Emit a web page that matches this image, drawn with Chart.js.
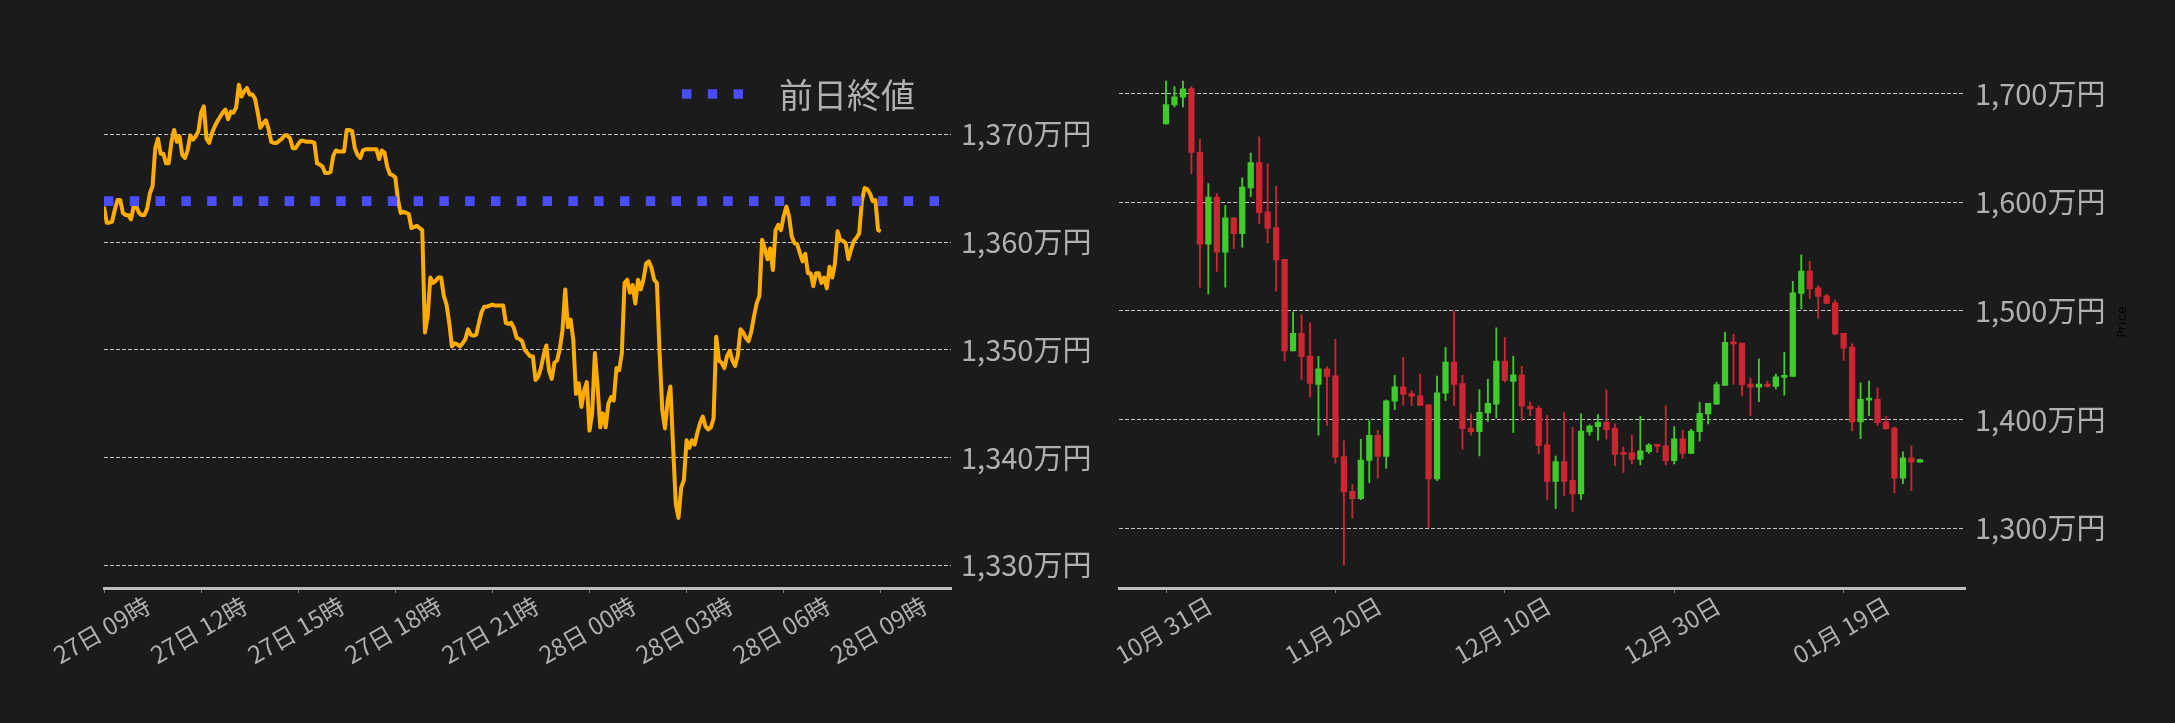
<!DOCTYPE html>
<html lang="ja">
<head>
<meta charset="utf-8">
<script src="https://cdn.jsdelivr.net/npm/chart.js@4.4.1/dist/chart.umd.min.js"></script>
<style>
  html, body { margin: 0; padding: 0; background: #1b1b1b; }
  body { width: 2175px; height: 723px; position: relative; overflow: hidden; }
  .box { position: absolute; top: 0; height: 723px; }
  #leftBox { left: 0; width: 1100px; }
  #rightBox { left: 1100px; width: 1075px; }
</style>
</head>
<body>
<div class="box" id="leftBox"><canvas id="intraday" width="1100" height="723"></canvas></div>
<div class="box" id="rightBox"><canvas id="daily" width="1075" height="723"></canvas></div>
<script>
/* ---------- intraday (5 min steps from 27日 09時, 万円) ---------- */
const hourTickValues = [0, 3, 6, 9, 12, 15, 18, 21, 24];
const hourTickLabels = ["27日 09時", "27日 12時", "27日 15時", "27日 18時", "27日 21時",
                        "28日 00時", "28日 03時", "28日 06時", "28日 09時"];
const priceValues = [
  1363.3, 1361.8, 1361.8, 1361.9, 1363.0, 1363.9, 1363.9, 1362.7, 1362.5, 1362.5,
  1362.1, 1363.3, 1363.3, 1362.7, 1362.5, 1362.5, 1363.1, 1364.5, 1365.2, 1368.7,
  1369.6, 1368.2, 1368.2, 1367.3, 1367.3, 1369.3, 1370.4, 1369.3, 1369.8, 1368.1,
  1367.8, 1368.5, 1369.9, 1369.5, 1369.8, 1370.3, 1372.0, 1372.6, 1369.6, 1369.2,
  1370.1, 1370.7, 1371.2, 1371.6, 1372.0, 1372.3, 1371.4, 1372.1, 1372.0, 1372.5,
  1374.6, 1373.5, 1374.0, 1374.3, 1373.7, 1373.7, 1373.3, 1372.0, 1370.6, 1371.0,
  1371.3, 1370.5, 1369.3, 1369.2, 1369.2, 1369.4, 1369.6, 1369.9, 1369.9, 1369.6,
  1368.7, 1368.7, 1369.1, 1369.4, 1369.4, 1369.3, 1369.3, 1369.3, 1369.2, 1367.3,
  1367.2, 1367.0, 1366.4, 1366.4, 1366.5, 1368.0, 1368.5, 1368.4, 1368.4, 1368.4,
  1370.4, 1370.4, 1370.3, 1368.7, 1368.1, 1367.8, 1368.5, 1368.6, 1368.6, 1368.6,
  1368.6, 1368.6, 1367.7, 1368.5, 1368.3, 1367.0, 1366.3, 1366.2, 1366.0, 1363.9,
  1362.7, 1362.8, 1362.7, 1362.6, 1361.3, 1361.4, 1361.5, 1361.3, 1361.1, 1351.6,
  1353.1, 1356.7, 1356.2, 1356.4, 1356.7, 1356.7, 1355.0, 1354.2, 1352.5, 1350.3,
  1350.6, 1350.5, 1350.3, 1350.6, 1351.0, 1351.9, 1351.4, 1351.3, 1351.4, 1352.5,
  1353.5, 1354.0, 1354.0, 1354.1, 1354.2, 1354.1, 1354.1, 1354.1, 1354.1, 1352.5,
  1352.4, 1352.5, 1352.0, 1351.1, 1351.0, 1350.8, 1350.0, 1349.7, 1349.4, 1349.4,
  1347.2, 1347.5, 1348.3, 1349.5, 1350.4, 1348.1, 1347.3, 1348.8, 1349.0, 1350.1,
  1351.8, 1355.6, 1352.1, 1352.8, 1350.9, 1345.9, 1346.9, 1344.7, 1346.2, 1347.0,
  1342.5, 1344.1, 1349.7, 1346.6, 1342.8, 1344.1, 1342.8, 1345.0, 1345.6, 1345.3,
  1348.3, 1348.1, 1349.7, 1356.2, 1356.5, 1355.3, 1356.0, 1354.3, 1356.5, 1355.6,
  1356.5, 1358.0, 1358.2, 1357.6, 1356.5, 1356.2, 1349.7, 1344.4, 1342.7, 1345.3,
  1346.6, 1341.0, 1335.7, 1334.4, 1337.2, 1337.9, 1341.6, 1340.9, 1341.6, 1341.2,
  1342.3, 1343.2, 1343.8, 1342.9, 1342.6, 1342.8, 1343.6, 1351.2, 1349.0, 1348.8,
  1348.3, 1349.4, 1349.9, 1349.0, 1348.5, 1349.5, 1351.9, 1351.6, 1351.1, 1350.8,
  1351.7, 1353.1, 1354.3, 1355.0, 1360.2, 1359.4, 1358.4, 1359.4, 1357.4, 1361.1,
  1361.6, 1361.1, 1362.4, 1363.3, 1362.4, 1360.5, 1359.9, 1359.8, 1359.0, 1358.2,
  1358.9, 1357.1, 1357.1, 1355.9, 1357.1, 1357.1, 1356.2, 1356.7, 1355.7, 1357.7,
  1356.7, 1358.0, 1361.0, 1360.2, 1360.1, 1359.9, 1358.4, 1359.3, 1360.1, 1360.4,
  1360.8, 1363.8, 1365.0, 1364.9, 1364.5, 1363.8, 1363.9, 1361.1, 1361.0
];
const prevClose = 1363.8;
const leftYTicks = [1330, 1340, 1350, 1360, 1370];

/* ---------- daily candles (day 0 = 10月31日, 万円) ---------- */
const dayTickValues = [0, 20, 40, 60, 80];
const dayTickLabels = ["10月 31日", "11月 20日", "12月 10日", "12月 30日", "01月 19日"];
const dailyOpen = [
  1672.4, 1689.7, 1697.0, 1704.8, 1646.4, 1561.5, 1604.8, 1554.2, 1585.8, 1571.2,
  1613.3, 1636.7, 1591.2, 1576.7, 1547.6, 1463.3, 1479.4, 1458.5, 1432.4, 1446.7,
  1440.3, 1365.8, 1333.9, 1327.0, 1362.4, 1385.5, 1366.1, 1417.0, 1430.0, 1424.0,
  1421.8, 1413.6, 1345.2, 1424.2, 1453.0, 1433.0, 1392.1, 1388.8, 1406.1, 1414.2,
  1453.9, 1435.2, 1441.2, 1412.1, 1410.3, 1376.7, 1343.0, 1361.2, 1343.9, 1331.5,
  1388.5, 1393.3, 1397.3, 1392.1, 1368.5, 1369.4, 1363.3, 1370.3, 1376.7, 1375.8,
  1362.1, 1382.1, 1368.8, 1388.8, 1405.2, 1414.2, 1431.5, 1471.2, 1470.3, 1432.7,
  1429.7, 1432.7, 1430.6, 1438.8, 1439.7, 1516.1, 1536.7, 1521.2, 1513.9, 1507.6,
  1479.4, 1466.7, 1397.9, 1417.9, 1418.5, 1397.6, 1392.1, 1346.0, 1364.8, 1360.6
];
const dailyHigh = [
  1711.8, 1706.7, 1711.8, 1706.7, 1658.2, 1617.3, 1608.2, 1597.0, 1585.8, 1622.7,
  1645.5, 1660.3, 1635.5, 1614.8, 1547.6, 1499.1, 1496.7, 1489.1, 1458.2, 1448.5,
  1473.9, 1380.3, 1340.0, 1381.8, 1399.1, 1390.0, 1418.2, 1440.6, 1457.3, 1426.4,
  1441.8, 1413.6, 1440.0, 1466.4, 1499.7, 1440.6, 1405.2, 1427.3, 1437.0, 1484.5,
  1475.5, 1458.2, 1449.1, 1416.4, 1412.7, 1403.6, 1366.4, 1406.4, 1392.7, 1405.2,
  1395.2, 1404.5, 1427.3, 1396.0, 1374.5, 1385.5, 1403.0, 1377.9, 1377.3, 1412.7,
  1393.6, 1390.0, 1390.9, 1415.8, 1414.8, 1434.5, 1480.3, 1478.5, 1470.3, 1438.2,
  1455.8, 1435.5, 1441.8, 1461.8, 1527.3, 1551.8, 1545.8, 1523.3, 1515.5, 1510.0,
  1479.4, 1469.7, 1433.9, 1435.5, 1429.1, 1402.7, 1393.0, 1370.3, 1375.5, 1363.6
];
const dailyLow = [
  1672.0, 1687.9, 1687.9, 1626.4, 1521.8, 1515.8, 1536.4, 1521.8, 1557.3, 1558.8,
  1605.2, 1580.6, 1562.7, 1518.2, 1454.0, 1463.3, 1437.0, 1420.9, 1385.5, 1394.5,
  1359.7, 1266.4, 1309.1, 1326.1, 1341.8, 1346.0, 1355.2, 1409.1, 1413.3, 1412.7,
  1412.7, 1300.6, 1343.6, 1417.3, 1412.7, 1372.7, 1385.5, 1366.4, 1398.2, 1401.2,
  1434.5, 1388.2, 1399.1, 1403.6, 1368.2, 1326.4, 1317.9, 1330.0, 1315.2, 1326.4,
  1385.5, 1380.9, 1381.8, 1357.3, 1351.2, 1359.1, 1358.2, 1368.8, 1369.7, 1358.2,
  1359.1, 1364.2, 1368.8, 1380.0, 1396.0, 1414.2, 1431.5, 1432.4, 1421.8, 1403.6,
  1416.4, 1429.7, 1428.2, 1422.4, 1439.7, 1501.8, 1511.5, 1493.3, 1506.7, 1477.9,
  1454.5, 1389.4, 1382.4, 1403.6, 1394.5, 1390.9, 1332.4, 1340.9, 1334.5, 1360.6
];
const dailyClose = [
  1690.0, 1697.3, 1704.5, 1646.0, 1561.5, 1604.8, 1554.2, 1585.8, 1571.2, 1614.0,
  1636.7, 1590.6, 1576.0, 1547.0, 1463.3, 1479.4, 1457.9, 1433.3, 1446.7, 1439.7,
  1365.2, 1333.3, 1327.0, 1362.7, 1385.5, 1366.1, 1417.3, 1430.0, 1423.3, 1421.5,
  1413.0, 1345.2, 1424.5, 1453.0, 1432.4, 1391.5, 1388.8, 1406.7, 1414.8, 1453.9,
  1436.0, 1441.2, 1412.4, 1409.7, 1376.0, 1343.0, 1361.2, 1343.0, 1331.5, 1389.4,
  1393.9, 1397.3, 1390.6, 1367.9, 1367.9, 1363.3, 1371.2, 1376.7, 1375.2, 1362.1,
  1382.1, 1368.8, 1389.4, 1405.8, 1414.8, 1432.1, 1471.2, 1469.7, 1432.1, 1429.7,
  1432.7, 1430.6, 1439.4, 1440.3, 1516.7, 1536.7, 1520.6, 1513.3, 1507.0, 1478.8,
  1465.8, 1397.9, 1418.5, 1418.5, 1397.0, 1391.5, 1346.0, 1364.8, 1360.6, 1363.0
];
const rightYTicks = [1300, 1400, 1500, 1600, 1700];

/* ---------- common styling ---------- */
const TEXT = "#b0b0b0";
const FONT = '"Noto Sans CJK JP", "Noto Sans", sans-serif';
const GRID = "rgba(225,225,225,0.85)";
const UP = "#3fcb2b";
const DOWN = "#cc2632";
const PREV = "#4a4cff";

Chart.defaults.font.family = FONT;
Chart.defaults.color = TEXT;
Chart.defaults.animation = false;

const manYen = v => v.toLocaleString("en-US") + "万円";

function xAxis(min, max, tickValues, tickLabels) {
  return {
    type: "linear", min, max, offset: false,
    afterBuildTicks: s => { s.ticks = tickValues.map(v => ({ value: v })); },
    afterFit: s => { s.height = 135; s.paddingLeft = 0; s.paddingRight = 0; },
    ticks: {
      autoSkip: false, minRotation: 30, maxRotation: 30,
      labelOffset: 44, padding: -2, color: TEXT, font: { size: 24 },
      callback: (v, i) => tickLabels[i]
    },
    grid: { drawOnChartArea: false, offset: false, tickLength: 5, color: "#777", lineWidth: 1 },
    border: { color: "#bdbdbd", width: 3 }
  };
}

function yAxis(min, max, tickValues, width) {
  return {
    type: "linear", position: "right", min, max,
    afterBuildTicks: s => { s.ticks = tickValues.map(v => ({ value: v })); },
    afterFit: s => { s.width = width; },
    ticks: { padding: 10, color: TEXT, font: { size: 29 }, callback: manYen },
    grid: { color: GRID, lineWidth: 1, drawTicks: false },
    border: { display: false, dash: [4, 2] }
  };
}

/* legend for the dotted 前日終値 line */
const prevCloseLegend = {
  id: "prevCloseLegend",
  afterDraw(chart) {
    const ctx = chart.ctx;
    ctx.save();
    ctx.strokeStyle = PREV;
    ctx.lineWidth = 9.7;
    ctx.setLineDash([9.4, 16.4]);
    ctx.beginPath();
    ctx.moveTo(682, 94);
    ctx.lineTo(744, 94);
    ctx.stroke();
    ctx.setLineDash([]);
    ctx.fillStyle = TEXT;
    ctx.font = "34px " + FONT;
    ctx.textBaseline = "middle";
    ctx.fillText("前日終値", 779, 95);
    ctx.restore();
  }
};

/* faint y label of the daily chart */
const priceLabel = {
  id: "priceLabel",
  afterDraw(chart) {
    const ctx = chart.ctx;
    ctx.save();
    ctx.translate(1023, 322);
    ctx.rotate(-Math.PI / 2);
    ctx.fillStyle = "#050505";
    ctx.font = "13px DejaVu Sans";
    ctx.textAlign = "center";
    ctx.textBaseline = "middle";
    ctx.fillText("Price", 0, 0);
    ctx.restore();
  }
};

/* ---------- left: intraday line ---------- */
const pricePoints = priceValues.map((v, k) => ({ x: k / 12, y: v }));
const hourMax = 26.17;

new Chart(document.getElementById("intraday"), {
  type: "line",
  data: {
    datasets: [
      {
        label: "前日終値",
        data: [{ x: 0, y: prevClose }, { x: hourMax, y: prevClose }],
        borderColor: PREV, borderWidth: 9.7, borderDash: [9.4, 16.4],
        borderCapStyle: "butt", pointRadius: 0, order: 0
      },
      {
        label: "price",
        data: pricePoints,
        borderColor: "#ffac00", borderWidth: 4, borderJoinStyle: "round",
        pointRadius: 0, tension: 0, order: 1
      }
    ]
  },
  options: {
    responsive: false,
    layout: { padding: { left: 104, top: 40, right: 0, bottom: 0 } },
    plugins: { legend: { display: false }, tooltip: { enabled: false } },
    scales: {
      x: xAxis(0, hourMax, hourTickValues, hourTickLabels),
      y: yAxis(1327.89, 1378.75, leftYTicks, 149)
    }
  },
  plugins: [prevCloseLegend]
});

/* ---------- right: daily candles ---------- */
const candleColors = dailyOpen.map((o, i) => dailyClose[i] >= o ? UP : DOWN);

new Chart(document.getElementById("daily"), {
  type: "bar",
  data: {
    datasets: [
      {
        label: "body",
        data: dailyOpen.map((o, i) => ({ x: i, y: [o, dailyClose[i]] })),
        backgroundColor: candleColors,
        barThickness: 5.6, minBarLength: 2, grouped: false, order: 0
      },
      {
        label: "wick",
        data: dailyLow.map((l, i) => ({ x: i, y: [l, dailyHigh[i]] })),
        backgroundColor: candleColors,
        barThickness: 1.2, grouped: false, order: 1
      }
    ]
  },
  options: {
    responsive: false,
    layout: { padding: { left: 19, top: 20, right: 0, bottom: 0 } },
    plugins: { legend: { display: false }, tooltip: { enabled: false } },
    scales: {
      x: xAxis(-5.55, 94.33, dayTickValues, dayTickLabels),
      y: yAxis(1244.8, 1761.2, rightYTicks, 210)
    }
  },
  plugins: [priceLabel]
});
</script>
</body>
</html>
